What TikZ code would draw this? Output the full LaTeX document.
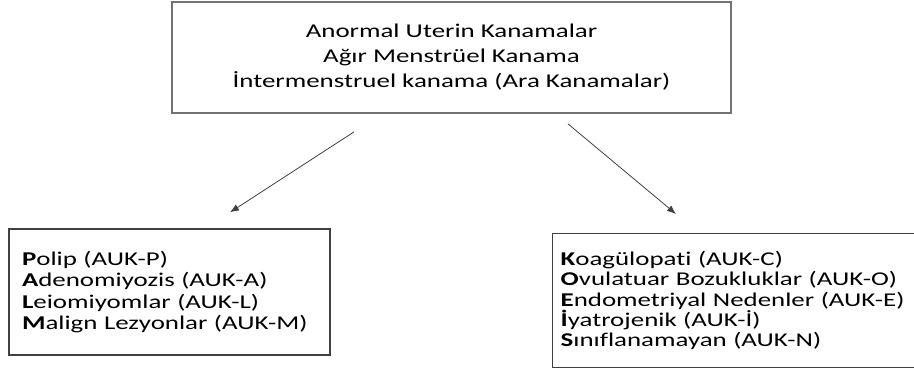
\documentclass[tikz,border=0pt]{standalone}
\usepackage{fontspec}
\setmainfont[FakeStretch=1.38, Ligatures=NoCommon]{Carlito}
\usepackage{tikz}
\usetikzlibrary{calc,positioning,arrows.meta}
\usepackage{xcolor}

\begin{document}
\begin{tikzpicture}[x=1pt, y=1pt,
    box/.style={draw=black!75, line width=1.3pt, inner sep=0pt},
    arr/.style={draw=black!75, line width=0.8pt, -{Latex[length=9pt,width=7pt]}}]
\useasboundingbox (0,0) rectangle (914,369);

% Draw the three boxes
\node[box, draw=black!55, line width=1.8pt, minimum width=559pt, minimum height=111pt, align=center,
      font=\fontsize{19.5}{25}\selectfont] (aub) at (451.5,311.5)
    {Anormal Uterin Kanamalar\\Ağır Menstrüel Kanama\\İntermenstruel kanama (Ara Kanamalar)};

\node[box, minimum width=321pt, minimum height=126pt, text width=295pt, align=left,
      font=\fontsize{19.5}{21.6}\selectfont] (palm) at (169.5,77)
    {\textbf{P}olip (AUK-P)\\\textbf{A}denomiyozis (AUK-A)\\\textbf{L}eiomiyomlar (AUK-L)\\\textbf{M}align Lezyonlar (AUK-M)};

\node[box, anchor=north west, minimum width=380pt, minimum height=134pt, text width=364pt, align=left,
      font=\fontsize{19.5}{20.3}\selectfont] (coein) at (552,136)
    {\textbf{K}oagülopati (AUK-C)\\\textbf{O}vulatuar Bozukluklar (AUK-O)\\\textbf{E}ndometriyal Nedenler (AUK-E)\\\textbf{İ}yatrojenik (AUK-İ)\\\textbf{S}ınıflanamayan (AUK-N)};

% Arrow ends
\coordinate (aub-l) at ([shift={(-97.5,-18)}]aub.south);
\coordinate (aub-r) at ([shift={(116.5,-10)}]aub.south);
\coordinate (palm-in) at ([shift={(60.5,16)}]palm.north);
\coordinate (coein-in) at ([shift={(124,19)}]coein.north west);

% Draw the arrows
\draw[arr] (aub-l) -- (palm-in);
\draw[arr] (aub-r) -- (coein-in);

\end{tikzpicture}
\end{document}
